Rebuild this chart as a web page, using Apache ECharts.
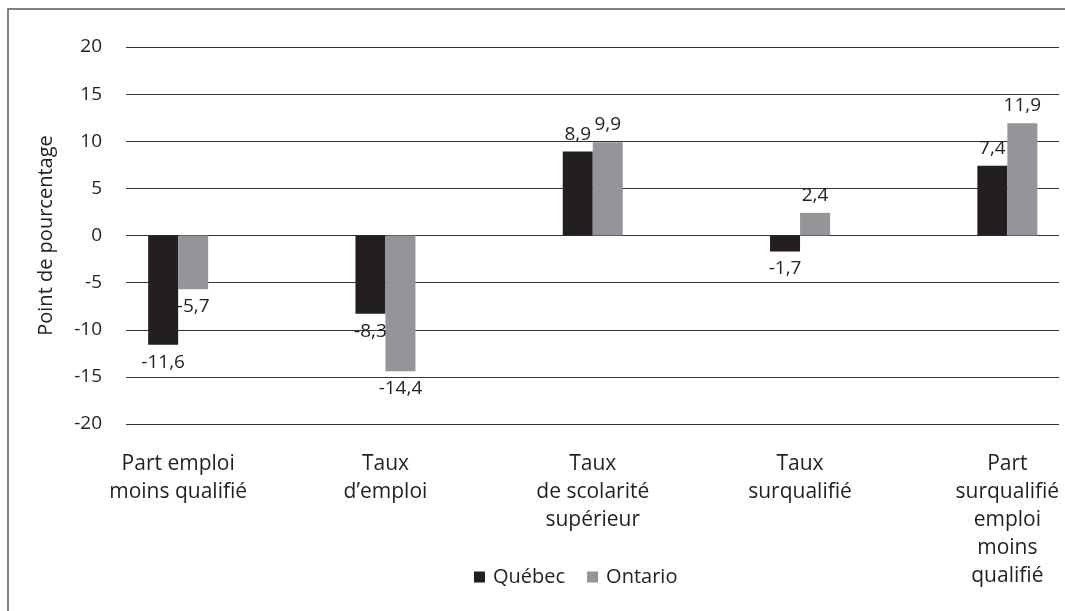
<!DOCTYPE html>
<html>
<head>
<meta charset="utf-8">
<script src="https://cdn.jsdelivr.net/npm/echarts@6/dist/echarts.min.js"></script>
<style>
  html, body { margin: 0; padding: 0; background: #fff; }
  #chart { width: 1065px; height: 611px; }
</style>
</head>
<body>
<div id="chart"></div>
<script>
// categories and values
const categories = [
  "Part emploi\nmoins qualifié",
  "Taux\nd’emploi",
  "Taux\nde scolarité\nsupérieur",
  "Taux\nsurqualifié",
  "Part\nsurqualifié\nemploi\nmoins\nqualifié"
];
const seriesNames = ["Québec", "Ontario"];
const quebec = [-11.6, -8.3, 8.9, -1.7, 7.4];
const ontario = [-5.7, -14.4, 9.9, 2.4, 11.9];
const yTicks = { min: -20, max: 20, interval: 5 };

const ink = "#231f20";
const font = "'Open Sans', 'Noto Sans', sans-serif";

function barData(values) {
  // negative values get their label below the bar, positive ones above
  return values.map((v) => ({
    value: v,
    label: { position: v < 0 ? "bottom" : "top" }
  }));
}

const chart = echarts.init(document.getElementById("chart"), null, { renderer: "canvas" });

chart.setOption({
  backgroundColor: "#fff",
  animation: false,
  textStyle: { fontFamily: font, color: ink },
  color: [ink, "#939598"],
  graphic: [{
    type: "rect",
    shape: { x: 8, y: 9, width: 1100, height: 640 },
    style: { fill: "none", stroke: "#58595b", lineWidth: 1.5 },
    silent: true
  }],
  legend: {
    data: seriesNames,
    left: 474,
    top: 567,
    padding: 0,
    itemWidth: 11,
    itemHeight: 11,
    itemGap: 22,
    icon: "rect",
    textStyle: { fontFamily: font, fontSize: 20, color: ink, padding: [0, 0, 0, 3] }
  },
  grid: [
    // grid for the value axis and its gridlines
    { left: 126, top: 47, right: 6, height: 377, outerBoundsMode: "none", containLabel: false },
    // wider grid for the category bands (runs past the right edge)
    { left: 74.5, top: 47, width: 1036.5, height: 377, outerBoundsMode: "none", containLabel: false }
  ],
  xAxis: [
    { gridIndex: 0, type: "value", show: false, min: 0, max: 1 },
    {
      gridIndex: 1,
      type: "category",
      data: categories,
      axisLine: { show: false },
      axisTick: { show: false },
      axisLabel: {
        interval: 0,
        margin: 26,
        fontFamily: font,
        fontSize: 21,
        lineHeight: 28,
        color: ink,
        align: "center"
      }
    }
  ],
  yAxis: [
    {
      gridIndex: 0,
      type: "value",
      min: yTicks.min,
      max: yTicks.max,
      interval: yTicks.interval,
      name: "Point de pourcentage",
      nameLocation: "middle",
      nameGap: 70,
      nameTextStyle: { fontFamily: font, fontSize: 20, color: ink },
      axisLine: { show: false },
      axisTick: { show: false },
      axisLabel: { margin: 24, fontFamily: font, fontSize: 19, color: ink },
      splitLine: { lineStyle: { color: "#333", width: 1.2 } }
    },
    {
      gridIndex: 1,
      type: "value",
      min: yTicks.min,
      max: yTicks.max,
      interval: yTicks.interval,
      show: false,
      splitLine: { show: false }
    }
  ],
  series: [quebec, ontario].map((vals, i) => ({
    name: seriesNames[i],
    type: "bar",
    xAxisIndex: 1,
    yAxisIndex: 1,
    barWidth: 30,
    barGap: "0%",
    data: barData(vals),
    label: {
      show: true,
      distance: 8,
      fontFamily: font,
      fontSize: 19,
      color: ink,
      formatter: (p) => String(p.value).replace(".", ",")
    }
  }))
});
</script>
</body>
</html>
